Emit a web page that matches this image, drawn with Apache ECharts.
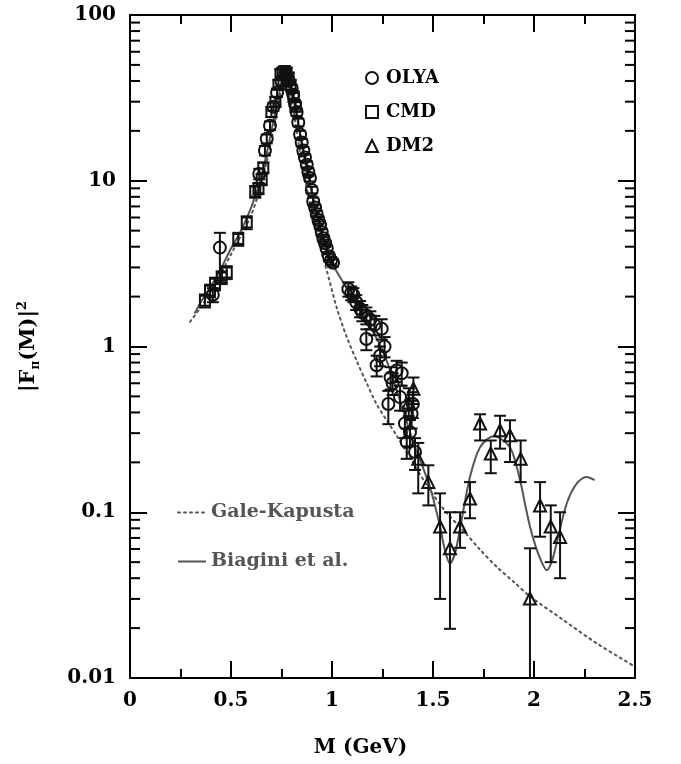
<!DOCTYPE html>
<html>
<head>
<meta charset="utf-8">
<script src="https://cdn.jsdelivr.net/npm/echarts@6/dist/echarts.min.js"></script>
<style>html,body{margin:0;padding:0;background:#fff}#c{width:681px;height:764px}</style>
</head>
<body>
<div id="c"></div>
<script>
// ---- data: [M, |F|^2, low, high] ----
const olya = [
  [0.410, 2.05, 1.85, 2.25],
  [0.445, 3.95, 2.50, 4.85],
  [0.640, 11.0, 10.2, 11.8],
  [0.668, 15.2, 14.2, 16.2],
  [0.677, 17.9, 16.8, 19.0],
  [0.693, 21.5, 20.2, 22.8],
  [0.710, 28.0, 26.4, 29.6],
  [0.728, 34.0, 32.0, 36.0],
  [0.750, 40.0, 37.5, 42.5],
  [0.770, 44.0, 41.5, 46.5],
  [0.785, 40.0, 37.8, 42.2],
  [0.800, 36.0, 34.0, 38.0],
  [0.808, 33.0, 31.2, 34.8],
  [0.817, 29.0, 27.4, 30.6],
  [0.825, 26.0, 24.6, 27.4],
  [0.833, 22.5, 21.3, 23.7],
  [0.842, 19.0, 18.0, 20.0],
  [0.850, 17.0, 16.1, 17.9],
  [0.858, 15.2, 14.4, 16.0],
  [0.866, 13.8, 13.1, 14.5],
  [0.875, 12.5, 11.9, 13.1],
  [0.883, 11.3, 10.7, 11.9],
  [0.891, 10.4, 9.9, 10.9],
  [0.900, 8.8, 8.4, 9.2],
  [0.907, 7.5, 7.1, 7.9],
  [0.916, 6.9, 6.6, 7.2],
  [0.924, 6.3, 6.0, 6.6],
  [0.933, 5.8, 5.5, 6.1],
  [0.941, 5.4, 5.1, 5.7],
  [0.949, 4.9, 4.65, 5.15],
  [0.957, 4.5, 4.28, 4.72],
  [0.966, 4.2, 4.0, 4.4],
  [0.974, 3.9, 3.7, 4.1],
  [0.985, 3.5, 3.32, 3.68],
  [0.995, 3.3, 3.13, 3.47],
  [1.005, 3.2, 3.04, 3.36],
  [1.081, 2.22, 2.0, 2.44],
  [1.095, 2.10, 1.9, 2.3],
  [1.106, 2.05, 1.85, 2.25],
  [1.120, 1.85, 1.66, 2.04],
  [1.139, 1.69, 1.5, 1.88],
  [1.150, 1.60, 1.42, 1.78],
  [1.170, 1.54, 1.36, 1.72],
  [1.170, 1.11, 0.95, 1.27],
  [1.190, 1.45, 1.27, 1.63],
  [1.210, 1.35, 1.17, 1.53],
  [1.221, 0.77, 0.66, 0.88],
  [1.238, 0.88, 0.76, 1.0],
  [1.246, 1.28, 1.1, 1.46],
  [1.260, 1.00, 0.86, 1.14],
  [1.279, 0.45, 0.34, 0.54],
  [1.290, 0.65, 0.55, 0.75],
  [1.300, 0.60, 0.51, 0.69],
  [1.320, 0.717, 0.61, 0.82],
  [1.337, 0.495, 0.41, 0.58],
  [1.345, 0.69, 0.58, 0.80],
  [1.361, 0.343, 0.28, 0.41],
  [1.370, 0.265, 0.21, 0.32],
  [1.386, 0.304, 0.25, 0.36],
  [1.394, 0.393, 0.32, 0.47],
  [1.400, 0.45, 0.37, 0.53],
  [1.411, 0.231, 0.18, 0.28]
];
const cmd = [
  [0.371, 1.89, 1.72, 2.06],
  [0.396, 2.17, 1.98, 2.36],
  [0.421, 2.39, 2.18, 2.60],
  [0.454, 2.61, 2.38, 2.84],
  [0.479, 2.80, 2.55, 3.05],
  [0.536, 4.45, 4.05, 4.85],
  [0.578, 5.60, 5.10, 6.10],
  [0.620, 8.60, 7.90, 9.30],
  [0.636, 9.00, 8.30, 9.70],
  [0.652, 10.2, 9.4, 11.0],
  [0.660, 12.0, 11.1, 12.9],
  [0.700, 26.0, 24.2, 27.8],
  [0.720, 30.0, 28.0, 32.0],
  [0.735, 38.0, 35.5, 40.5],
  [0.745, 44.0, 41.0, 47.0],
  [0.755, 45.0, 42.0, 48.0],
  [0.765, 46.0, 43.0, 49.0],
  [0.775, 45.0, 42.0, 48.0],
  [0.785, 42.0, 39.2, 44.8],
  [0.795, 38.0, 35.5, 40.5],
  [0.810, 32.0, 30.0, 34.0],
  [0.820, 28.0, 26.2, 29.8]
];
const dm2 = [
  [1.380, 0.460, 0.38, 0.56],
  [1.403, 0.556, 0.45, 0.65],
  [1.427, 0.210, 0.13, 0.262],
  [1.477, 0.152, 0.11, 0.192],
  [1.535, 0.082, 0.030, 0.13],
  [1.584, 0.0606, 0.0198, 0.10],
  [1.634, 0.082, 0.061, 0.10],
  [1.683, 0.121, 0.092, 0.152],
  [1.733, 0.343, 0.271, 0.39],
  [1.786, 0.226, 0.172, 0.271],
  [1.832, 0.312, 0.242, 0.382],
  [1.881, 0.291, 0.201, 0.359],
  [1.934, 0.210, 0.152, 0.271],
  [1.980, 0.0302, 0.005, 0.0606],
  [2.030, 0.110, 0.0712, 0.152],
  [2.083, 0.082, 0.050, 0.110],
  [2.129, 0.071, 0.040, 0.10]
];
const galeKapusta = [
  [0.297, 1.41], [0.35, 1.72], [0.40, 2.15], [0.45, 2.75], [0.50, 3.6],
  [0.55, 4.7], [0.60, 6.2], [0.65, 9.6], [0.70, 17.5], [0.73, 27],
  [0.76, 40], [0.775, 45], [0.79, 38], [0.82, 22], [0.85, 13],
  [0.90, 6.5], [0.95, 3.6], [0.974, 2.87], [1.023, 1.72], [1.073, 1.14],
  [1.122, 0.82], [1.172, 0.60], [1.22, 0.45], [1.27, 0.36], [1.32, 0.29],
  [1.40, 0.20], [1.485, 0.136], [1.565, 0.10], [1.65, 0.0776], [1.73, 0.060],
  [1.815, 0.0469], [1.90, 0.038], [1.98, 0.0311], [2.145, 0.0224],
  [2.31, 0.0162], [2.50, 0.0117]
];
const biagini = [
  [0.32, 1.58], [0.35, 1.85], [0.40, 2.3], [0.45, 2.95], [0.50, 3.9],
  [0.55, 5.0], [0.60, 6.9], [0.65, 10.5], [0.70, 20], [0.73, 30],
  [0.76, 43], [0.775, 46], [0.79, 40], [0.82, 27], [0.85, 17],
  [0.90, 8.5], [0.95, 4.8], [1.00, 3.2], [1.05, 2.5], [1.10, 1.95],
  [1.15, 1.6], [1.20, 1.25], [1.25, 0.95], [1.30, 0.65], [1.35, 0.42],
  [1.40, 0.27], [1.436, 0.206], [1.485, 0.142], [1.535, 0.082], [1.559, 0.059],
  [1.584, 0.049], [1.609, 0.0565], [1.634, 0.08], [1.683, 0.163], [1.733, 0.247],
  [1.80, 0.287], [1.881, 0.247], [1.931, 0.156], [1.955, 0.113], [1.98, 0.082],
  [2.005, 0.064], [2.035, 0.051], [2.063, 0.0447], [2.087, 0.05], [2.112, 0.065],
  [2.162, 0.113], [2.211, 0.149], [2.26, 0.163], [2.30, 0.156]
];
const xTicks = [0, 0.5, 1, 1.5, 2, 2.5];
const yMinorTicks = [];
[0.01, 0.1, 1, 10].forEach(function (d) {
  for (let k = 2; k <= 9; k++) yMinorTicks.push([0, +(d * k).toPrecision(3)]);
});

const FONT = '"DejaVu Serif", "Liberation Serif", serif';
const chart = echarts.init(document.getElementById('c'), null, { renderer: 'canvas' });

function errRender(params, api) {
  const x = api.value(0), lo = api.value(2), hi = api.value(3);
  const p1 = api.coord([x, lo]);
  const p2 = api.coord([x, hi]);
  const w = 6;
  const st = { stroke: '#111', lineWidth: 2, fill: null };
  return {
    type: 'group',
    children: [
      { type: 'line', shape: { x1: p1[0], y1: p1[1], x2: p2[0], y2: p2[1] }, style: st },
      { type: 'line', shape: { x1: p1[0] - w, y1: p1[1], x2: p1[0] + w, y2: p1[1] }, style: st },
      { type: 'line', shape: { x1: p2[0] - w, y1: p2[1], x2: p2[0] + w, y2: p2[1] }, style: st }
    ]
  };
}
function errSeries(data) {
  return {
    type: 'custom', renderItem: errRender, data: data, clip: true,
    encode: { x: 0, y: [2, 3] }, silent: true, z: 3
  };
}
function markSeries(name, data, symbol, size) {
  return {
    name: name, type: 'scatter', symbol: symbol, symbolSize: size,
    data: data.map(function (d) { return [d[0], d[1]]; }),
    itemStyle: { color: 'rgba(0,0,0,0)', borderColor: '#111', borderWidth: 2, opacity: 1 },
    z: 4, silent: true
  };
}

const axisCommon = {
  axisLine: { show: true, onZero: false, lineStyle: { color: '#000', width: 2 } },
  splitLine: { show: false }
};

chart.setOption({
  animation: false,
  backgroundColor: '#fff',
  grid: { left: 130, top: 15, width: 505, height: 663, containLabel: false },
  xAxis: [
    Object.assign({}, axisCommon, {
      type: 'value', min: 0, max: 2.5, interval: 0.5, position: 'bottom',
      axisTick: { show: true, inside: true, length: 17, lineStyle: { color: '#000', width: 2 } },
      minorTick: { show: true, splitNumber: 2, length: 9, lineStyle: { color: '#000', width: 2 } },
      axisLabel: {
        color: '#000', fontFamily: FONT, fontWeight: 'bold', fontSize: 20, margin: 13,
        formatter: function (v) { return xTicks.indexOf(v) >= 0 ? String(v) : ''; }
      },
      name: 'M (GeV)', nameLocation: 'middle', nameGap: 60,
      nameTextStyle: { color: '#000', fontFamily: FONT, fontWeight: 'bold', fontSize: 20, padding: [0, 44, 0, 0] }
    }),
    Object.assign({}, axisCommon, {
      type: 'value', min: 0, max: 2.5, interval: 0.5, position: 'top',
      axisTick: { show: true, inside: true, length: 17, lineStyle: { color: '#000', width: 2 } },
      minorTick: { show: true, splitNumber: 2, length: 9, lineStyle: { color: '#000', width: 2 } },
      axisLabel: { show: false }
    })
  ],
  yAxis: [
    Object.assign({}, axisCommon, {
      type: 'log', logBase: 10, min: 0.01, max: 100, position: 'left',
      axisTick: { show: true, inside: true, length: 17, lineStyle: { color: '#000', width: 2 } },
      axisLabel: { color: '#000', fontFamily: FONT, fontWeight: 'bold', fontSize: 20, margin: 14 },
      name: '{a||F}{s|π}{a|(M)|}{p|2}', nameLocation: 'middle', nameGap: 88, nameRotate: 90,
      nameTextStyle: {
        color: '#000', fontFamily: FONT, fontWeight: 'bold', fontSize: 20,
        rich: {
          a: { fontFamily: FONT, fontWeight: 'bold', fontSize: 21, color: '#000', lineHeight: 26, verticalAlign: 'middle' },
          s: { fontFamily: FONT, fontWeight: 'bold', fontSize: 12, color: '#000', lineHeight: 12, verticalAlign: 'bottom' },
          p: { fontFamily: FONT, fontWeight: 'bold', fontSize: 13, color: '#000', lineHeight: 13, verticalAlign: 'top' }
        }
      }
    }),
    Object.assign({}, axisCommon, {
      type: 'log', logBase: 10, min: 0.01, max: 100, position: 'right',
      axisTick: { show: true, inside: true, length: 17, lineStyle: { color: '#000', width: 2 } },
      axisLabel: { show: false }
    })
  ],
  legend: [
    {
      data: ['OLYA', 'CMD', 'DM2'], orient: 'vertical', left: 360, top: 64,
      itemWidth: 12, itemHeight: 12, itemGap: 16, selectedMode: false,
      textStyle: { color: '#000', fontFamily: FONT, fontWeight: 'bold', fontSize: 18, padding: [0, 0, 0, 3] }
    },
    {
      data: ['Gale-Kapusta', 'Biagini et al.'], orient: 'vertical', left: 172, top: 498,
      itemWidth: 28, itemHeight: 14, itemGap: 30, selectedMode: false,
      itemStyle: { color: 'rgba(0,0,0,0)', borderWidth: 0, opacity: 0 },
      textStyle: { color: '#555', fontFamily: FONT, fontWeight: 'bold', fontSize: 19, padding: [0, 0, 0, 0] }
    }
  ],
  series: [
    {
      type: 'custom', data: yMinorTicks, encode: { x: 0, y: 1 }, silent: true, z: 2,
      renderItem: function (params, api) {
        const v = api.value(1);
        const a = api.coord([0, v]);
        const b = api.coord([2.5, v]);
        const st = { stroke: '#000', lineWidth: 2 };
        return {
          type: 'group', children: [
            { type: 'line', shape: { x1: a[0], y1: a[1], x2: a[0] + 10, y2: a[1] }, style: st },
            { type: 'line', shape: { x1: b[0] - 10, y1: b[1], x2: b[0], y2: b[1] }, style: st }
          ]
        };
      }
    },
    {
      name: 'Gale-Kapusta', type: 'line', data: galeKapusta, smooth: 0.3, showSymbol: false, symbol: 'none',
      lineStyle: { color: '#555', width: 2, type: [2, 4], cap: 'round' }, itemStyle: { color: '#555' }, z: 2, silent: true
    },
    {
      name: 'Biagini et al.', type: 'line', data: biagini, smooth: 0.3, showSymbol: false, symbol: 'none',
      lineStyle: { color: '#555', width: 2 }, itemStyle: { color: '#555' }, z: 2, silent: true
    },
    errSeries(olya), errSeries(cmd), errSeries(dm2),
    markSeries('OLYA', olya, 'circle', 12),
    markSeries('CMD', cmd, 'rect', 10),
    markSeries('DM2', dm2, 'triangle', 12)
  ]
});
</script>
</body>
</html>
